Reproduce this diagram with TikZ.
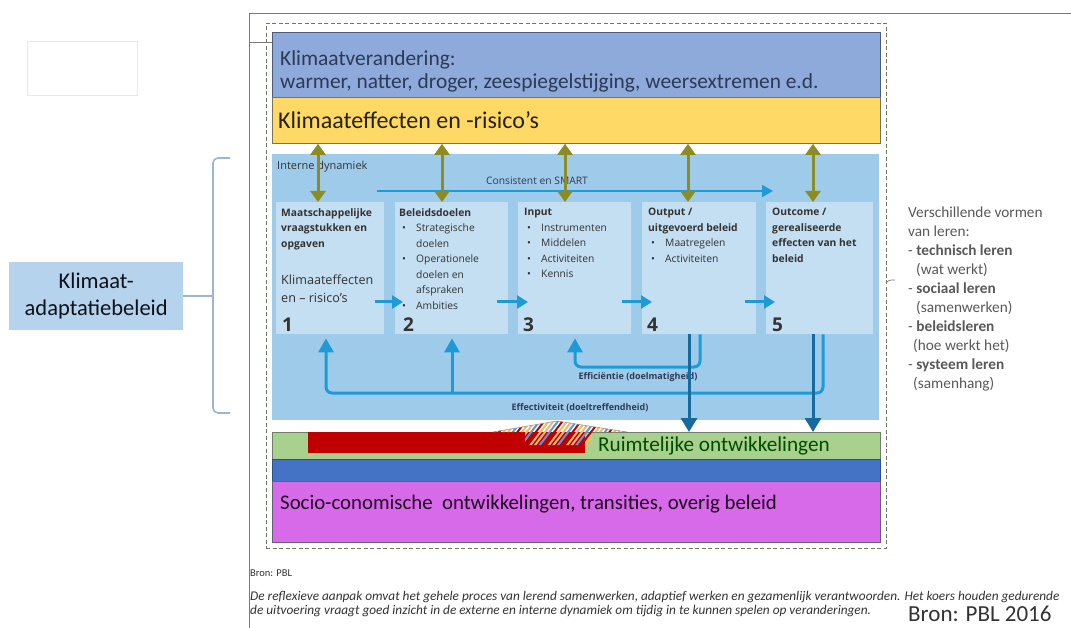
\documentclass[tikz,border=0pt]{standalone}
\usepackage{fontspec}
\setmainfont{Carlito}
\newfontfamily\rof{Open Sans}
\usetikzlibrary{arrows.meta,calc}
\definecolor{cTop}{HTML}{8EAADB}
\definecolor{cTopD}{HTML}{4A5C7A}
\definecolor{cYel}{HTML}{FFD966}
\definecolor{cYelD}{HTML}{7D7350}
\definecolor{cPanel}{HTML}{9FCBEA}
\definecolor{cBox}{HTML}{C4DEF2}
\definecolor{cOlive}{HTML}{8C8C22}
\definecolor{cArr}{HTML}{1E9BD7}
\definecolor{cDark}{HTML}{166A9E}
\definecolor{cGreen}{HTML}{A9D18E}
\definecolor{cGreenD}{HTML}{6D7F6A}
\definecolor{cBlue}{HTML}{4472C4}
\definecolor{cBlueD}{HTML}{2F4F8A}
\definecolor{cPink}{HTML}{D76AE8}
\definecolor{cPinkD}{HTML}{6A5A80}
\definecolor{cRed}{HTML}{C00000}
\definecolor{cBrace}{HTML}{9CB5D2}
\definecolor{cKlim}{HTML}{B5D3EC}
\definecolor{cTxt}{HTML}{333333}
\definecolor{cNavy}{HTML}{2B3A55}
\definecolor{cFrame}{HTML}{7A7A7A}
\definecolor{cDash}{HTML}{6B7A5C}
\definecolor{cGray}{HTML}{595959}
\definecolor{stA}{HTML}{F4B183}
\definecolor{stB}{HTML}{5B9BD5}
\definecolor{stC}{HTML}{C00000}
\definecolor{stD}{HTML}{E8C060}
\newcommand\bl{\makebox[3pt]{}\makebox[14pt][l]{•}}
\newcommand\bi{\hspace*{17pt}}
\begin{document}
\begin{tikzpicture}[x=1pt,y=-1pt,
  band/.style={draw, line width=0.8pt, anchor=north west, inner sep=0pt},
  stepbox/.style={fill=cBox, anchor=north west, inner sep=0pt, minimum height=132pt},
  txt/.style={inner sep=0pt, anchor=base west},
  olv/.style={cOlive, line width=3pt, {Triangle[width=15pt,length=11pt]}-{Triangle[width=15pt,length=11pt]}},
  fwd/.style={cArr, line width=3pt, -{Triangle[width=13pt,length=11pt]}},
  fb/.style={cArr, line width=3pt, rounded corners=6pt, -{Triangle[width=15pt,length=14pt]}},
  dnarrow/.style={cDark, line width=3pt, -{Triangle[width=16pt,length=14pt]}},
  boxtxt/.style={inner sep=0pt, anchor=north west, align=left, text=cTxt, font=\rof\fontsize{10.3}{15.5}\selectfont},
  numtxt/.style={inner sep=0pt, anchor=base west, text=cTxt, font=\rof\bfseries\fontsize{19}{22}\selectfont},
]
\useasboundingbox (0,0) rectangle (1071,628);
\fill[white] (0,0) rectangle (1071,628);

% outer frame
\coordinate (fTR) at (1071,13);
\coordinate (fTL) at (249,13);
\coordinate (fBL) at (249,628);
\coordinate (fM) at (249,42);
\draw[cFrame, line width=0.8pt] (fTR) -- (fTL) -- (fBL);

% faint empty box
\node[draw=black!9, line width=0.8pt, anchor=north west, minimum width=110pt, minimum height=54pt, inner sep=0pt] (blank) at (27,41) {};

% dashed frame
\node[draw=cDash, dash pattern=on 4pt off 2.5pt, line width=0.9pt, anchor=north west, minimum width=620pt, minimum height=525pt, inner sep=0pt] (frame) at (266,23) {};

% top band
\node[band, fill=cTop, draw=cTopD, minimum width=608pt, minimum height=65pt] (cc) at (272,32) {};
\draw[cFrame, line width=0.8pt] (fM) -- (fM -| cc.west);
\node[txt, text=cNavy, font=\fontsize{21.4}{25}\selectfont] (cct1) at (280,66) {Klimaatverandering:};
\node[txt, text=cNavy, font=\fontsize{21.4}{25}\selectfont] (cct2) at (280,89) {warmer, natter, droger, zeespiegelstijging, weersextremen e.d.};

% yellow band
\node[band, fill=cYel, draw=cYelD, minimum width=608pt, minimum height=46pt] (yel) at (272,97) {};
\node[txt, text=black!75!cOlive, font=\fontsize{24}{28}\selectfont] (yelt) at (278,129) {Klimaateffecten en -risico’s};

% panel
\node[anchor=north west, fill=cPanel, inner sep=0pt, minimum width=607pt, minimum height=266pt] (panel) at (272,154) {};
\node[txt, text=cTxt, font=\rof\fontsize{11}{14}\selectfont] (intd) at (277,170) {Interne dynamiek};

% step boxes
\node[stepbox, minimum width=108pt] (b1) at (276,202) {};
\node[stepbox, minimum width=113pt] (b2) at (395,202) {};
\node[stepbox, minimum width=113pt] (b3) at (518,202) {};
\node[stepbox, minimum width=114pt] (b4) at (642,202) {};
\node[stepbox, minimum width=107pt] (b5) at (766,202) {};

% consistent arrow
\coordinate (cs) at (377,191);
\coordinate (ce) at (773,191);
\draw[cArr, line width=2pt, -{Triangle[width=12pt,length=11pt]}] (cs) -- (ce);
\node[inner sep=0pt, text=cNavy, font=\rof\fontsize{10.3}{12}\selectfont] (cst) at (537,181) {Consistent en SMART};

% olive double arrows
\coordinate (o1) at (318,0);
\coordinate (o2) at (442,0);
\coordinate (o3) at (565,0);
\coordinate (o4) at (688,0);
\coordinate (o5) at (813,0);
\draw[olv] (o1 |- yel.south) -- (o1 |- b1.north);
\draw[olv] (o2 |- yel.south) -- (o2 |- b2.north);
\draw[olv] (o3 |- yel.south) -- (o3 |- b3.north);
\draw[olv] (o4 |- yel.south) -- (o4 |- b4.north);
\draw[olv] (o5 |- yel.south) -- (o5 |- b5.north);

% box texts
\node[boxtxt] (t1) at (281,208) {\textbf{Maatschappelijke}\\\textbf{vraagstukken en}\\\textbf{opgaven}};
\node[boxtxt, font=\rof\fontsize{12.6}{18}\selectfont] (t1b) at (281,275) {Klimaateffecten\\en – risico’s};
\node[numtxt] (n1) at (282,332) {1};

\node[boxtxt] (t2) at (399,208) {\textbf{Beleidsdoelen}\\\bl Strategische\\\bi doelen\\\bl Operationele\\\bi doelen en\\\bi afspraken\\\bl Ambities};
\node[numtxt] (n2) at (403,332) {2};

\node[boxtxt] (t3) at (524,208) {\textbf{Input}\\\bl Instrumenten\\\bl Middelen\\\bl Activiteiten\\\bl Kennis};
\node[numtxt] (n3) at (523,332) {3};

\node[boxtxt] (t4) at (648,208) {\textbf{Output /}\\\textbf{uitgevoerd beleid}\\\bl Maatregelen\\\bl Activiteiten};
\node[numtxt] (n4) at (647,332) {4};

\node[boxtxt] (t5) at (772,208) {\textbf{Outcome /}\\\textbf{gerealiseerde}\\\textbf{effecten van het}\\\textbf{beleid}};
\node[numtxt] (n5) at (772,332) {5};

% forward arrows
\coordinate (fy) at (0,302);
\draw[fwd] ($(b1.east|-fy)+(-9,0)$) -- ($(b2.west|-fy)+(8,0)$);
\draw[fwd] ($(b2.east|-fy)+(-11,0)$) -- ($(b3.west|-fy)+(10,0)$);
\draw[fwd] ($(b3.east|-fy)+(-9,0)$) -- ($(b4.west|-fy)+(10,0)$);
\draw[fwd] ($(b4.east|-fy)+(-11,0)$) -- ($(b5.west|-fy)+(9,0)$);

% bottom bands
\node[band, fill=cGreen, draw=cGreenD, minimum width=608pt, minimum height=27pt] (green) at (272,432) {};
\node[band, fill=cBlue, draw=cBlueD, minimum width=608pt, minimum height=22pt] (dblue) at (272,459) {};
\node[band, fill=cPink, draw=cPinkD, minimum width=608pt, minimum height=61pt] (pink) at (272,481) {};

% red block and striped mound
\fill[cRed] (308,432) rectangle (585,453);
\begin{scope}
\clip (493,432) -- (557,421) -- (627,432) -- (592,432) -- (592,445) -- (525,445) -- (525,432) -- cycle;
\foreach \k in {0,...,9}{
  \foreach \c [count=\j] in {stA,stB,stC,stD}{
    \draw[\c, line width=2pt] ({470+(\k*4+\j)*4.6},452) -- ++(26,-34);
  }
}
\end{scope}
\draw[black!45, line width=0.5pt] (493,432) -- (557,421) -- (627,432);

\node[txt, text=black!70!green, font=\fontsize{21.2}{25}\selectfont] (gt) at (598,451) {Ruimtelijke ontwikkelingen};
\node[txt, text=black!75!violet, font=\fontsize{20.8}{24}\selectfont] (pt) at (280,509) {Socio-conomische\ \ ontwikkelingen, transities, overig beleid};

% feedback loops
\coordinate (ax1) at (326,0);
\coordinate (ax2) at (452,0);
\coordinate (ax3) at (575,0);
\coordinate (fx4) at (700,0);
\coordinate (fx5) at (823,0);
\coordinate (dx4) at (689,0);
\coordinate (dx5) at (813,0);
\coordinate (ey1) at (0,367);
\coordinate (ey2) at (0,393);
\draw[fb] (fx4 |- b4.south) -- (fx4 |- ey1) -| ($(ax3 |- b3.south)+(0,4)$);
\draw[fb] (fx5 |- b5.south) -- (fx5 |- ey2) -| ($(ax1 |- b1.south)+(0,4)$);
\draw[fb] (ax2 |- ey2) -- ($(ax2 |- b2.south)+(0,4)$);

\node[inner sep=0pt, text=cNavy, font=\rof\bfseries\fontsize{9}{11}\selectfont] (eff1) at (638,377) {Efficiëntie (doelmatigheid)};
\node[inner sep=0pt, text=cNavy, font=\rof\bfseries\fontsize{9}{11}\selectfont] (eff2) at (580,408) {Effectiviteit (doeltreffendheid)};

\draw[dnarrow] (dx4 |- b4.south) -- (dx4 |- green.north);
\draw[dnarrow] (dx5 |- b5.south) -- (dx5 |- green.north);

% left side
\node[fill=cKlim, anchor=north west, minimum width=174pt, minimum height=68pt, inner sep=0pt] (kb) at (9,262) {};
\node[inner sep=0pt, align=center, text=black!70!cNavy, font=\fontsize{22.5}{27}\selectfont] (kbt) at (kb.center) {Klimaat-\\adaptatiebeleid};
\coordinate (bx) at (213,0);
\draw[cBrace, line width=1.6pt, rounded corners=5pt] (230,158) -- (213,158) -- (213,413) -- (230,413);
\draw[cBrace, line width=1.6pt] (kb.east) -- (kb.east -| bx);

% right side
\draw[cFrame, line width=0.7pt] (886,283) .. controls (889,280) .. (895,280);
\node[anchor=north west, align=left, inner sep=0pt, text=cGray, font=\fontsize{15.3}{19}\selectfont] (learn) at (908,207) {Verschillende vormen\\van leren:\\- \textbf{technisch leren}\\\hspace*{8pt}(wat werkt)\\- \textbf{sociaal\ leren}\\\hspace*{8pt}(samenwerken)\\- \textbf{beleidsleren}\\\hspace*{5pt}(hoe werkt het)\\- \textbf{systeem leren}\\\hspace*{5pt}(samenhang)};

% bottom texts
\node[txt, text=cTxt, font=\fontsize{10.5}{12}\selectfont] (bron1) at (250,576) {Bron: PBL};
\node[anchor=north west, inner sep=0pt, align=left, text=cTxt, font=\itshape\fontsize{13.3}{14}\selectfont] (refl) at (250,591) {De reflexieve aanpak omvat het gehele proces van lerend samenwerken, adaptief werken en gezamenlijk verantwoorden. Het koers houden gedurende\\de uitvoering vraagt goed inzicht in de externe en interne dynamiek om tijdig in te kunnen spelen op veranderingen.};
\node[txt, text=cTxt, font=\fontsize{23}{26}\selectfont] (bron2) at (908,621) {Bron: PBL 2016};
\end{tikzpicture}
\end{document}
